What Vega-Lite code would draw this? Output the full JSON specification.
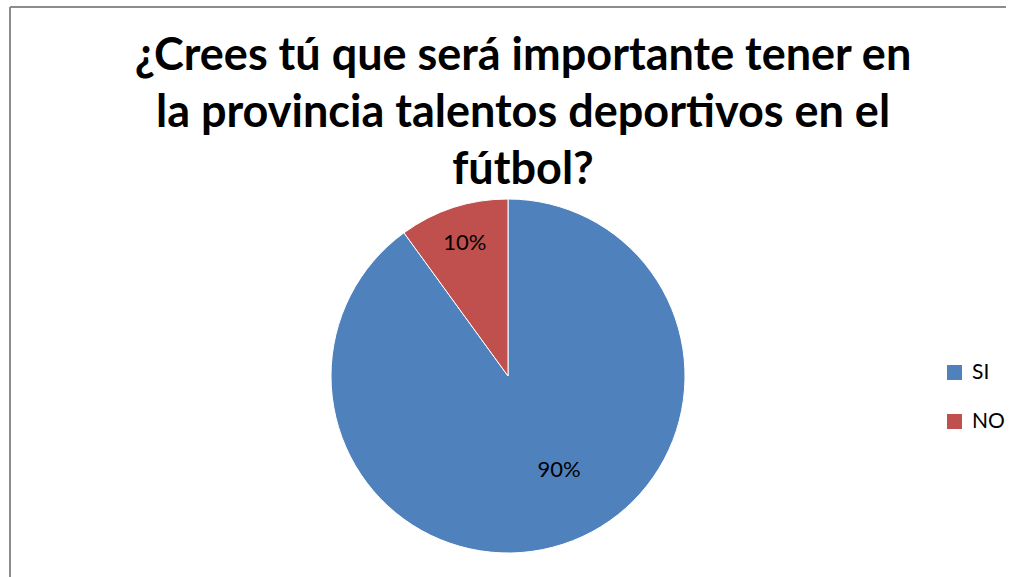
{
  "$schema": "https://vega.github.io/schema/vega-lite/v6.json",
  "width": 996,
  "height": 738,
  "autosize": {"type": "none"},
  "padding": {"left": 10, "top": 7, "right": 17, "bottom": 0},
  "background": "white",
  "view": {"stroke": "#8c8c8c", "strokeWidth": 2, "strokeDash": [996, 738, 1734, 0]},
  "config": {
    "view": {"stroke": "#8c8c8c", "strokeWidth": 2},
    "font": "Lato"
  },
  "title": {
    "text": ["¿Crees tú que será importante tener en", "la provincia talentos deportivos en el", "fútbol?"],
    "font": "Lato",
    "fontWeight": "bold",
    "fontSize": 45,
    "lineHeight": 57,
    "color": "#000000",
    "anchor": "middle",
    "frame": "group",
    "baseline": "top",
    "offset": -186,
    "dx": 15
  },
  "data": {
    "values": [
      {"respuesta": "SI", "porcentaje": 0.9, "orden": 1},
      {"respuesta": "NO", "porcentaje": 0.1, "orden": 2}
    ]
  },
  "encoding": {
    "theta": {"field": "porcentaje", "type": "quantitative", "stack": true},
    "order": {"field": "orden", "type": "quantitative"}
  },
  "layer": [
    {
      "mark": {"type": "arc", "radius": 177, "stroke": "white", "strokeWidth": 1},
      "encoding": {
        "color": {
          "field": "respuesta",
          "type": "nominal",
          "scale": {"domain": ["SI", "NO"], "range": ["#4F81BD", "#C0504D"]},
          "legend": {
            "title": null,
            "orient": "none",
            "legendX": 934,
            "legendY": 355,
            "padding": 0,
            "symbolType": "square",
            "symbolSize": 225,
            "symbolStrokeWidth": 0,
            "labelFont": "Lato",
            "labelFontSize": 21,
            "labelColor": "#000000",
            "labelOffset": 7,
            "rowPadding": 27
          }
        }
      }
    },
    {
      "mark": {
        "type": "text",
        "font": "Lato",
        "fontSize": 22,
        "color": "#000000",
        "radius": {"expr": "datum.respuesta === 'NO' ? 140 : 107"},
        "thetaOffset": {"expr": "datum.respuesta === 'NO' ? 0 : -0.183"}
      },
      "encoding": {
        "text": {"field": "porcentaje", "type": "quantitative", "format": ".0%"},
        "detail": {"field": "respuesta", "type": "nominal"}
      }
    }
  ]
}
